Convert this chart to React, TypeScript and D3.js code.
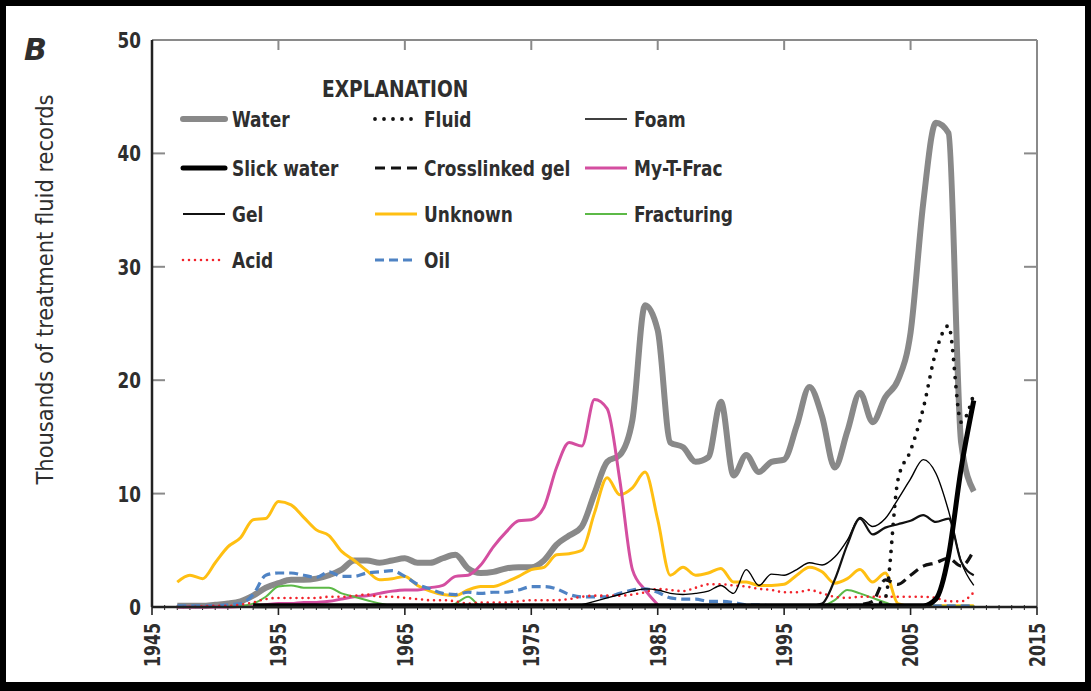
import { useEffect, useRef } from "react";
import * as d3 from "d3";

// annual values, thousands of records
const years = d3.range(1947, 2011);

const water = [
  0.1, 0.1, 0.1, 0.2, 0.3, 0.5, 1.0, 1.7, 2.1, 2.4, 2.4, 2.5, 2.8, 3.3, 4.1, 4.1,
  3.9, 4.1, 4.3, 3.9, 3.9, 4.3, 4.6, 3.4, 3.0, 3.1, 3.4, 3.5, 3.5, 4.1, 5.5, 6.3,
  7.1, 10.0, 12.8, 13.4, 16.5, 26.6, 24.4, 14.5, 14.1, 12.8, 13.2, 18.1, 11.6, 13.4,
  11.9, 12.8, 13.0, 16.0, 19.4, 16.8, 12.3, 15.5, 18.9, 16.3, 18.5, 20.0, 24.2,
  35.6, 42.7, 41.8, 14.5, 10.2,
];
const unknown = [
  2.2, 2.8, 2.5, 3.9, 5.3, 6.1, 7.7, 7.8, 9.3, 9.0, 7.9, 6.8, 6.3, 4.9, 4.1, 3.2,
  2.4, 2.5, 2.7, 1.9, 1.4, 1.1, 1.0, 1.5, 1.8, 1.8, 2.2, 2.7, 3.3, 3.5, 4.6, 4.7,
  5.0, 8.3, 11.4, 9.9, 10.5, 11.9, 7.7, 2.8, 3.5, 2.8, 3.0, 3.4, 2.2, 2.2, 1.9, 1.9,
  2.0, 2.8, 3.5, 3.1, 2.1, 2.5, 3.3, 2.2, 3.0, 0.3, 0.1, 0.1, 0.1, 0.1, 0.1, 0.1,
];
const myTFrac = [
  0, 0, 0, 0, 0, 0.05, 0.1, 0.2, 0.3, 0.3, 0.4, 0.4, 0.5, 0.7, 0.9, 1.0, 1.2, 1.4,
  1.5, 1.5, 1.7, 1.9, 2.7, 2.8, 3.7, 5.3, 6.6, 7.6, 7.7, 8.8, 12.3, 14.5, 14.2,
  18.3, 17.5, 11.2, 3.3, 1.5, 0.2,
];
const fracturing = [
  0, 0, 0, 0, 0.05, 0.1, 0.3, 0.9, 1.8, 1.9, 1.7, 1.7, 1.7, 1.2, 0.9, 0.6, 0.3,
  0.1, 0.05, 0.05, 0.05, 0.05, 0.3, 0.9, 0.1, 0.05, 0.05, 0.05, 0.05, 0.05, 0.05,
  0.05, 0.05, 0.05, 0.05, 0.05, 0.05, 0.05, 0.05, 0.05, 0.05, 0.05, 0.05, 0.05,
  0.05, 0.05, 0.05, 0.05, 0.05, 0.05, 0.05, 0.1, 0.6, 1.5, 1.2, 0.8, 0.4, 0.05,
  0.05, 0.05, 0.05, 0.05, 0.05, 0.05,
];
const oil = [
  0.1, 0.1, 0.1, 0.1, 0.2, 0.3, 1.1, 2.8, 3.0, 3.0, 2.8, 2.6, 3.1, 2.7, 2.7, 3.0,
  3.1, 3.2, 2.7, 2.0, 1.6, 1.2, 1.1, 1.3, 1.2, 1.3, 1.3, 1.5, 1.8, 1.8, 1.6, 1.1,
  0.9, 0.9, 0.9, 1.2, 1.5, 1.6, 1.3, 0.8, 0.7, 0.7, 0.5, 0.5, 0.4, 0.2, 0.2, 0.1,
  0.1, 0.1, 0.1, 0.1, 0.1, 0.1, 0.1, 0.1, 0.1, 0.1, 0.1, 0.1, 0.1, 0.1, 0.1, 0.1,
];
const acid = [
  0, 0, 0.05, 0.1, 0.1, 0.2, 0.4, 0.7, 0.8, 0.8, 0.8, 0.8, 0.9, 0.9, 1.0, 1.1, 0.9,
  0.9, 0.8, 0.7, 0.6, 0.6, 0.5, 0.3, 0.4, 0.4, 0.4, 0.5, 0.6, 0.6, 0.6, 0.7, 0.9,
  1.0, 1.0, 1.0, 1.1, 1.3, 1.6, 1.5, 1.4, 1.7, 2.0, 2.0, 1.9, 1.8, 1.6, 1.5, 1.3,
  1.3, 1.5, 1.2, 0.9, 0.8, 0.9, 0.9, 0.9, 0.9, 0.9, 0.9, 0.8, 0.5, 0.5, 1.3,
];
// from 1953
const gel = [
  0.1, 0.1, 0.1, 0.1, 0.1, 0.1, 0.1, 0.1, 0.1, 0.1, 0.1, 0.1, 0.1, 0.1, 0.1, 0.1,
  0.1, 0.1, 0.1, 0.1, 0.1, 0.1, 0.1, 0.1, 0.1, 0.1, 0.1, 0.1, 0.1, 0.1, 0.1, 0.1,
  0.1, 0.1, 0.1, 0.1, 0.1, 0.1, 0.1, 0.1, 0.1, 0.1, 0.1, 0.1, 0.1, 0.3, 2.4, 5.5,
  7.8, 6.4, 7.0, 7.3, 7.6, 8.1, 7.5, 7.8, 4.0, 2.8,
];
// from 1979
const foam = [
  0.2, 0.5, 0.8, 1.1, 1.4, 1.6, 1.5, 1.2, 1.1, 1.2, 1.4, 1.9, 1.2, 3.3, 1.9, 2.9,
  2.8, 3.3, 3.9, 3.7, 4.4, 5.9, 7.9, 7.1, 7.8, 9.5, 11.3, 13.0, 11.8, 8.5, 4.0, 1.9,
];
// from 1953
const slickWater = [
  0.1, 0.1, 0.1, 0.1, 0.1, 0.1, 0.1, 0.1, 0.1, 0.1, 0.1, 0.1, 0.1, 0.1, 0.1, 0.1,
  0.1, 0.1, 0.1, 0.1, 0.1, 0.1, 0.1, 0.1, 0.1, 0.1, 0.1, 0.1, 0.1, 0.1, 0.1, 0.1,
  0.1, 0.1, 0.1, 0.1, 0.1, 0.1, 0.1, 0.1, 0.1, 0.1, 0.1, 0.1, 0.1, 0.1, 0.1, 0.1,
  0.1, 0.1, 0.1, 0.1, 0.1, 0.1, 0.7, 4.5, 12.2, 18.2,
];
// from 2000
const crosslinkedGel = [0, 0.2, 0.5, 2.4, 2.0, 2.8, 3.6, 3.9, 4.3, 3.6, 5.0];
// from 2002
const fluid = [0, 0.8, 11.2, 13.8, 17.5, 22.5, 24.8, 16.3, 18.8];

const yTicks = [0, 10, 20, 30, 40, 50];
const xTicks = [1945, 1955, 1965, 1975, 1985, 1995, 2005, 2015];

type Series = {
  name: string;
  start: number;
  values: number[];
  color: string;
  width: number;
  dash?: string;
  cap?: string;
};

const series: Series[] = [
  { name: "Water", start: years[0], values: water, color: "#898989", width: 6 },
  { name: "Unknown", start: years[0], values: unknown, color: "#ffbf12", width: 3 },
  { name: "My-T-Frac", start: years[0], values: myTFrac, color: "#d44ea0", width: 3 },
  { name: "Fracturing", start: years[0], values: fracturing, color: "#5cb947", width: 2 },
  { name: "Oil", start: years[0], values: oil, color: "#4f83c4", width: 3.2, dash: "9,5" },
  { name: "Acid", start: years[0], values: acid, color: "#f2232b", width: 2.6, dash: "0,6", cap: "round" },
  { name: "Foam", start: 1979, values: foam, color: "#000", width: 1.4 },
  { name: "Gel", start: 1953, values: gel, color: "#111", width: 2.2 },
  { name: "Crosslinked gel", start: 2000, values: crosslinkedGel, color: "#111", width: 3.2, dash: "10,6" },
  { name: "Fluid", start: 2002, values: fluid, color: "#111", width: 3.8, dash: "0,9", cap: "round" },
  { name: "Slick water", start: 1953, values: slickWater, color: "#000", width: 5 },
];

const legendColumns = [
  ["Water", "Slick water", "Gel", "Acid"],
  ["Fluid", "Crosslinked gel", "Unknown", "Oil"],
  ["Foam", "My-T-Frac", "Fracturing"],
];

export default function App() {
  const ref = useRef<SVGSVGElement>(null);

  useEffect(() => {
    if (!ref.current) return;
    const width = 1091;
    const height = 691;
    const margin = { top: 40, right: 54, bottom: 84, left: 152 };
    const innerWidth = width - margin.left - margin.right;
    const innerHeight = height - margin.top - margin.bottom;
    const font = "'DejaVu Sans Condensed', 'DejaVu Sans', sans-serif";
    const textColor = "#2e2e2e";

    const root = d3.select(ref.current);
    root.selectAll("*").remove();
    root.attr("width", width).attr("height", height);

    root.append("rect").attr("width", width).attr("height", height).attr("fill", "#fff");

    const svg = root.append("g").attr("transform", `translate(${margin.left},${margin.top})`);

    const x = d3.scaleLinear().domain([1945, 2015]).range([0, innerWidth]);
    const y = d3.scaleLinear().domain([0, 50]).range([innerHeight, 0]);

    // frame: top and right gray
    svg.append("line").attr("x1", 0).attr("x2", innerWidth).attr("y1", 0).attr("y2", 0)
      .attr("stroke", "#8a8a8a").attr("stroke-width", 2);
    svg.append("line").attr("x1", innerWidth).attr("x2", innerWidth).attr("y1", 0).attr("y2", innerHeight)
      .attr("stroke", "#8a8a8a").attr("stroke-width", 2);

    // inward gray ticks on top, left and right
    xTicks.slice(1, -1).forEach((t) => {
      svg.append("line").attr("x1", x(t)).attr("x2", x(t)).attr("y1", 0).attr("y2", 10)
        .attr("stroke", "#8a8a8a").attr("stroke-width", 2);
    });
    yTicks.slice(1, -1).forEach((t) => {
      svg.append("line").attr("x1", 0).attr("x2", 13).attr("y1", y(t)).attr("y2", y(t))
        .attr("stroke", "#8a8a8a").attr("stroke-width", 2);
      svg.append("line").attr("x1", innerWidth - 13).attr("x2", innerWidth).attr("y1", y(t)).attr("y2", y(t))
        .attr("stroke", "#8a8a8a").attr("stroke-width", 2);
    });

    // minor year ticks on bottom
    d3.range(1945, 2016).forEach((yr) => {
      const major = (yr - 1945) % 10 === 0;
      svg.append("line").attr("x1", x(yr)).attr("x2", x(yr))
        .attr("y1", innerHeight - (major ? 0 : 2)).attr("y2", innerHeight + (major ? 8 : 3))
        .attr("stroke", "#222").attr("stroke-width", major ? 1.6 : 1);
    });

    // lines
    series.forEach((s) => {
      const pts = s.values.map((v, i) => ({ yr: s.start + i, v }));
      const line = d3.line<{ yr: number; v: number }>()
        .x((d) => x(d.yr))
        .y((d) => y(d.v))
        .curve(d3.curveMonotoneX);
      svg.append("path").datum(pts)
        .attr("fill", "none")
        .attr("stroke", s.color)
        .attr("stroke-width", s.width)
        .attr("stroke-dasharray", s.dash ?? null)
        .attr("stroke-linecap", s.cap ?? "butt")
        .attr("stroke-linejoin", "round")
        .attr("d", line);
    });

    // left and bottom axes, black
    svg.append("line").attr("x1", 0).attr("x2", 0).attr("y1", 0).attr("y2", innerHeight)
      .attr("stroke", "#222").attr("stroke-width", 2.5);
    svg.append("line").attr("x1", 0).attr("x2", innerWidth).attr("y1", innerHeight).attr("y2", innerHeight)
      .attr("stroke", "#222").attr("stroke-width", 2.5);

    // tick labels (narrowed to mimic a condensed face)
    yTicks.forEach((t) => {
      svg.append("text")
        .attr("transform", `translate(-11,${y(t)}) scale(0.85,1)`)
        .attr("dy", "0.36em")
        .attr("text-anchor", "end").attr("font-family", font).attr("font-weight", "bold")
        .attr("font-size", 22).attr("fill", textColor).text(t);
    });
    xTicks.forEach((t) => {
      svg.append("text")
        .attr("transform", `translate(${x(t)},${innerHeight + 16}) rotate(-90) scale(0.8,1)`)
        .attr("dy", "0.36em").attr("text-anchor", "end").attr("font-family", font)
        .attr("font-weight", "bold").attr("font-size", 22).attr("fill", textColor).text(t);
    });

    // y label
    root.append("text")
      .attr("transform", `translate(53,${margin.top + innerHeight / 2 - 34}) rotate(-90)`)
      .attr("text-anchor", "middle").attr("font-family", font).attr("font-size", 23)
      .attr("textLength", 390).attr("lengthAdjust", "spacingAndGlyphs")
      .attr("fill", textColor).text("Thousands of treatment fluid records");

    // panel letter
    root.append("text").attr("x", 24).attr("y", 60).attr("font-family", "'DejaVu Sans', sans-serif")
      .attr("font-weight", "bold").attr("font-style", "italic").attr("font-size", 30)
      .attr("fill", textColor).text("B");

    // legend
    root.append("text").attr("transform", "translate(322,97) scale(0.9,1)").attr("font-family", font)
      .attr("font-weight", "bold").attr("font-size", 23).attr("fill", textColor).text("EXPLANATION");

    const colX = [183, 375, 585];
    const rowY = [119, 168, 214, 260];
    legendColumns.forEach((col, ci) => {
      col.forEach((name, ri) => {
        const s = series.find((d) => d.name === name)!;
        const lx = colX[ci];
        const ly = rowY[ri];
        root.append("line").attr("x1", lx).attr("x2", lx + 42).attr("y1", ly).attr("y2", ly)
          .attr("stroke", s.color).attr("stroke-width", s.width)
          .attr("stroke-dasharray", s.dash ?? null)
          .attr("stroke-linecap", s.cap ?? (s.name === "Water" || s.name === "Slick water" ? "round" : "butt"));
        root.append("text").attr("transform", `translate(${lx + 49},${ly}) scale(0.9,1)`)
          .attr("dy", "0.36em")
          .attr("font-family", font).attr("font-weight", "bold").attr("font-size", 21)
          .attr("fill", textColor).text(name);
      });
    });

    // outer black border
    root.append("rect").attr("x", 0).attr("y", 0).attr("width", width).attr("height", 6).attr("fill", "#000");
    root.append("rect").attr("x", 0).attr("y", 0).attr("width", 6).attr("height", height).attr("fill", "#000");
    root.append("rect").attr("x", width - 6).attr("y", 0).attr("width", 6).attr("height", height).attr("fill", "#000");
    root.append("rect").attr("x", 0).attr("y", height - 9).attr("width", width).attr("height", 9).attr("fill", "#000");
  }, []);

  return <svg ref={ref} style={{ position: "absolute", left: 0, top: 0, display: "block" }} />;
}
